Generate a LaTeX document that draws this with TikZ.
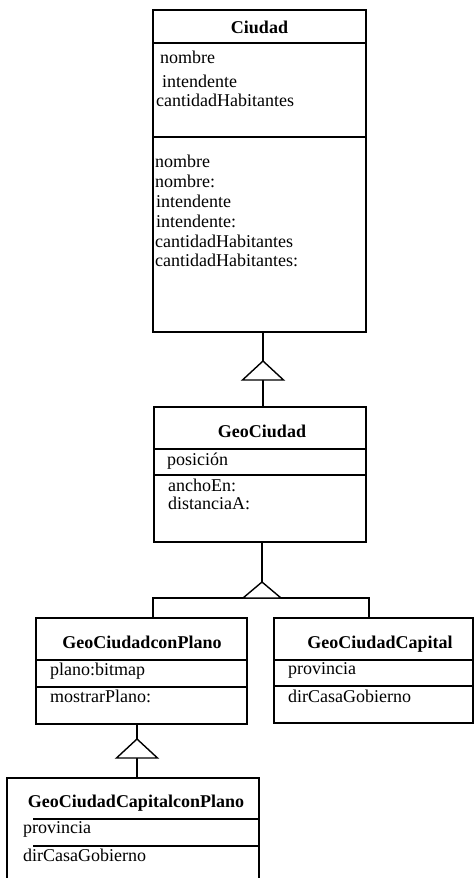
\documentclass[tikz,border=0pt]{standalone}
\usepackage{fontspec}
\setmainfont{Liberation Serif}
\begin{document}
\begin{tikzpicture}[x=1pt,y=-1pt,
  classbox/.style={draw, line width=1.6pt, anchor=north west, inner sep=0pt, outer sep=0pt},
  rule/.style={line width=1.4pt},
  link/.style={line width=1.4pt},
  gen/.style={line width=1.4pt, fill=white, line join=miter},
  title/.style={font=\fontsize{18}{20}\selectfont\bfseries, inner sep=0pt, text height=12pt, text depth=4pt},
  member/.style={font=\fontsize{18}{20}\selectfont, anchor=west, inner sep=0pt, text height=12pt, text depth=4pt}]
\useasboundingbox (0,0) rectangle (474,878);
\clip (0,0) rectangle (474,878);

% ---- Ciudad ----
\node[classbox, minimum width=213pt, minimum height=322pt] (ciudad) at (153,10) {};
\draw[rule] (153,43) -- (366,43);
\draw[rule] (153,137) -- (366,137);
\node[title] (ciudadT) at (259.5,29) {Ciudad};
\node[member] (c1) at (160,59) {nombre};
\node[member] (c2) at (162,83) {intendente};
\node[member] (c3) at (156,102) {cantidadHabitantes};
\node[member] (c4) at (155,163) {nombre};
\node[member] (c5) at (155,183) {nombre:};
\node[member] (c6) at (156,203) {intendente};
\node[member] (c7) at (156,223) {intendente:};
\node[member] (c8) at (155,243) {cantidadHabitantes};
\node[member] (c9) at (155,262) {cantidadHabitantes:};

% ---- GeoCiudad ----
\node[classbox, minimum width=212pt, minimum height=135pt] (geo) at (154,407) {};
\draw[rule] (154,449) -- (366,449);
\draw[rule] (154,475) -- (366,475);
\node[title] (geoT) at (262,433) {GeoCiudad};
\node[member] (g1) at (167,461) {posición};
\node[member] (g2) at (168,487) {anchoEn:};
\node[member] (g3) at (168,505) {distanciaA:};

% ---- GeoCiudadconPlano ----
\node[classbox, minimum width=211pt, minimum height=106pt] (plano) at (36,618) {};
\draw[rule] (36,660) -- (247,660);
\draw[rule] (36,687) -- (247,687);
\node[title] (planoT) at (142,644) {GeoCiudadconPlano};
\node[member] (p1) at (50,671) {plano:bitmap};
\node[member] (p2) at (50,698) {mostrarPlano:};

% ---- GeoCiudadCapital ----
\node[classbox, minimum width=199pt, minimum height=105pt] (capital) at (274,618) {};
\draw[rule] (274,660) -- (473,660);
\draw[rule] (274,686) -- (473,686);
\node[title] (capitalT) at (380,644) {GeoCiudadCapital};
\node[member] (k1) at (288,670) {provincia};
\node[member] (k2) at (288,698) {dirCasaGobierno};

% ---- GeoCiudadCapitalconPlano (runs past the lower edge) ----
\node[classbox, minimum width=252pt, minimum height=130pt] (capplano) at (7,778) {};
\draw[rule] (33,819) -- (259,819);
\draw[rule] (33,846) -- (259,846);
\node[title] (capplanoT) at (136,803) {GeoCiudadCapitalconPlano};
\node[member] (q1) at (23,829) {provincia};
\node[member] (q2) at (23,857) {dirCasaGobierno};

% ---- generalisation: GeoCiudad -> Ciudad ----
\coordinate (ap1) at (263,361);
\coordinate (bm1) at (263,380);
\draw[link] (ciudad.south -| ap1) -- (ap1);
\draw[link] (bm1) -- (geo.north -| bm1);
\draw[gen] (ap1) -- ++(-20.5,19) -- ++(41,0) -- cycle;

% ---- generalisation: two subclasses -> GeoCiudad ----
\coordinate (ap2) at (262,582);
\coordinate (bl) at (153,598);
\coordinate (br) at (369,598);
\draw[link] (geo.south -| ap2) -- (ap2);
\draw[link] (plano.north -| bl) -- (bl) -- (br) -- (capital.north -| br);
\draw[gen] (ap2) -- ++(-19,16) -- ++(38,0) -- cycle;

% ---- generalisation: GeoCiudadCapitalconPlano -> GeoCiudadconPlano ----
\coordinate (ap3) at (137,739);
\coordinate (bm3) at (137,758);
\draw[link] (plano.south -| ap3) -- (ap3);
\draw[link] (bm3) -- (capplano.north -| bm3);
\draw[gen] (ap3) -- ++(-20.5,19) -- ++(41,0) -- cycle;
\end{tikzpicture}
\end{document}
